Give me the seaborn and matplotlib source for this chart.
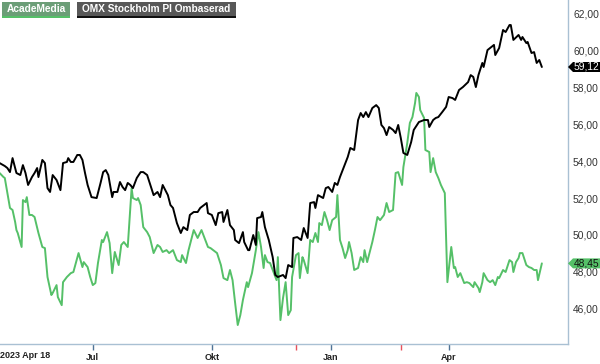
import matplotlib
matplotlib.use('Agg')
import matplotlib.pyplot as plt
from matplotlib.patches import Rectangle, Polygon
import seaborn as sns
import pandas as pd

START = '2023-04-18'
series_names = ['AcadeMedia', 'OMX Stockholm PI Ombaserad']

omx_days = [2, 6, 8, 10, 12, 15, 18, 20, 22, 24,
            27, 29, 31, 32, 35, 37, 39, 41, 43, 46,
            49, 51, 54, 55, 57, 59, 62, 64, 66, 68,
            70, 73, 77, 80, 82, 84, 86, 89, 90, 93,
            95, 97, 99, 101, 103, 105, 108, 111, 113, 116,
            118, 121, 124, 126, 128, 132, 134, 136, 139, 142,
            144, 147, 149, 152, 155, 157, 160, 162, 163, 166,
            169, 171, 174, 175, 178, 180, 183, 184, 187, 190,
            191, 194, 195, 198, 200, 201, 204, 205, 207, 210,
            213, 215, 217, 221, 223, 225, 228, 229, 232, 235,
            237, 240, 242, 245, 246, 248, 252, 254, 256, 259,
            261, 263, 265, 268, 271, 273, 276, 279, 281, 283,
            285, 287, 290, 293, 295, 297, 299, 301, 303, 306,
            308, 310, 312, 314, 317, 320, 322, 326, 330, 333,
            334, 337, 339, 341, 344, 347, 349, 352, 354, 357,
            360, 364, 366, 368, 370, 372, 375, 376, 379, 382,
            384, 385, 388, 391, 393, 396, 397, 399, 403, 405,
            406, 409, 410, 413, 415, 417, 419, 421]
omx_values = [53.90, 53.74, 53.63, 53.41, 54.17, 53.36, 53.25, 53.79, 53.36, 52.71,
              53.14, 53.36, 53.63, 53.14, 54.07, 53.90, 52.54, 52.33, 53.25, 52.98,
              52.43, 53.90, 53.96, 54.17, 53.96, 53.96, 54.34, 54.34, 54.07, 53.36,
              52.71, 52.05, 52.00, 52.82, 53.41, 53.52, 53.25, 52.05, 52.33, 52.33,
              52.87, 52.60, 52.43, 52.82, 52.71, 52.54, 53.09, 53.41, 53.41, 53.25,
              52.82, 52.16, 52.33, 52.05, 52.71, 52.16, 51.62, 51.46, 50.64, 50.10,
              50.42, 50.26, 51.08, 51.24, 51.24, 51.46, 51.62, 51.73, 51.18, 51.08,
              50.53, 51.18, 51.24, 50.70, 51.35, 50.53, 50.26, 49.72, 49.55, 50.15,
              49.61, 49.17, 49.17, 49.99, 49.45, 50.91, 50.97, 51.24, 50.42, 49.72,
              48.79, 47.82, 47.71, 47.82, 47.65, 48.36, 48.25, 49.83, 49.88, 49.72,
              50.37, 49.83, 51.73, 51.78, 51.46, 52.16, 52.00, 52.54, 52.60, 52.33,
              52.82, 52.71, 53.14, 53.68, 54.23, 54.72, 54.61, 56.24, 56.62, 56.40,
              56.67, 56.40, 56.89, 57.05, 56.89, 55.97, 55.80, 55.42, 55.86, 55.70,
              55.53, 55.97, 55.26, 54.45, 54.34, 55.04, 55.70, 56.13, 56.24, 56.24,
              55.86, 56.24, 56.35, 56.40, 56.67, 56.95, 57.49, 57.43, 57.33, 57.87,
              58.03, 58.30, 58.68, 58.58, 58.03, 58.68, 59.34, 59.12, 60.04, 60.21,
              60.32, 59.77, 60.15, 61.13, 61.02, 61.40, 61.40, 60.59, 60.86, 60.59,
              60.75, 60.42, 60.48, 59.88, 59.93, 59.34, 59.50, 59.12]

acad_days = [2, 5, 6, 8, 10, 12, 14, 15, 16, 19,
             20, 22, 23, 25, 27, 29, 32, 35, 37, 39,
             42, 43, 46, 47, 50, 51, 54, 57, 59, 63,
             66, 67, 70, 72, 74, 76, 78, 81, 82, 85,
             87, 89, 91, 94, 96, 98, 101, 104, 105, 108,
             109, 111, 113, 116, 118, 121, 124, 126, 128, 131,
             133, 136, 139, 142, 143, 146, 148, 152, 155, 158,
             163, 165, 167, 170, 173, 175, 178, 180, 182, 184,
             186, 188, 190, 193, 194, 197, 200, 202, 204, 206,
             207, 209, 211, 214, 216, 217, 219, 221, 223, 225,
             227, 228, 231, 233, 234, 236, 237, 240, 242, 244,
             246, 248, 249, 251, 253, 255, 257, 259, 262, 263,
             265, 267, 269, 271, 272, 274, 276, 279, 281, 283,
             284, 286, 287, 290, 292, 294, 296, 299, 301, 303,
             306, 308, 310, 313, 314, 317, 319, 321, 323, 324,
             326, 327, 330, 331, 334, 335, 337, 339, 341, 343,
             346, 348, 351, 353, 354, 356, 358, 361, 363, 365,
             368, 369, 372, 373, 375, 376, 379, 381, 383, 385,
             387, 388, 391, 393, 396, 398, 399, 401, 403, 404,
             406, 409, 411, 413, 415, 417, 418, 421]
acad_values = [53.36, 53.14, 53.09, 52.27, 51.46, 51.35, 50.70, 50.26, 50.10, 49.34,
               51.89, 51.78, 52.05, 51.08, 51.08, 50.97, 50.10, 49.34, 49.28, 47.71,
               46.73, 46.84, 47.27, 46.62, 46.18, 47.43, 47.71, 47.92, 47.98, 49.01,
               48.25, 48.52, 48.25, 47.71, 47.27, 47.38, 48.47, 49.72, 49.61, 50.15,
               49.55, 47.92, 49.07, 48.36, 49.45, 49.61, 49.34, 52.54, 52.00, 51.89,
               52.00, 51.62, 50.42, 50.15, 49.88, 49.01, 49.45, 49.34, 49.07, 49.17,
               49.01, 49.17, 48.63, 48.52, 48.90, 48.47, 49.17, 50.26, 49.83, 50.26,
               49.34, 49.28, 49.17, 49.01, 48.36, 47.65, 47.54, 48.09, 47.54, 46.29,
               45.10, 45.64, 46.46, 47.43, 47.16, 47.92, 49.17, 50.15, 49.34, 48.20,
               48.90, 48.52, 48.47, 47.92, 47.54, 48.79, 45.37, 46.57, 47.43, 45.64,
               45.91, 47.71, 48.90, 49.01, 47.65, 48.79, 48.63, 47.92, 49.72, 49.61,
               50.10, 49.61, 50.64, 50.53, 51.24, 50.80, 50.26, 50.80, 50.97, 52.16,
               49.72, 49.28, 48.74, 49.17, 49.61, 49.01, 48.09, 48.20, 48.79, 48.52,
               49.17, 48.52, 48.79, 49.61, 50.26, 50.97, 50.80, 51.08, 51.73, 51.24,
               51.35, 53.36, 53.41, 52.71, 53.68, 54.99, 56.08, 56.40, 57.16, 57.71,
               57.49, 56.78, 56.35, 54.61, 54.50, 53.41, 54.17, 53.41, 53.09, 52.71,
               52.27, 47.43, 49.34, 48.20, 48.25, 47.71, 47.92, 47.38, 47.43, 47.38,
               47.16, 47.43, 47.11, 46.89, 47.43, 47.92, 47.54, 47.43, 47.54, 47.27,
               47.71, 47.65, 48.09, 47.98, 48.63, 48.52, 47.98, 48.52, 48.74, 49.01,
               49.01, 48.36, 48.25, 48.20, 48.09, 48.09, 47.54, 48.45]

tick_dates = ['2023-07-01', '2023-10-01', '2024-01-01', '2024-04-01']
tick_labels = ['Jul', 'Okt', 'Jan', 'Apr']
event_dates = ['2023-12-05', '2024-02-24']
y_ticks = [46, 48, 50, 52, 54, 56, 58, 60, 62]
last_labels = ['48,45', '59,12']

GREEN = '#55c068'
BLACK = '#000000'

start = pd.Timestamp(START)
df = pd.concat([
    pd.DataFrame({'date': start + pd.to_timedelta(acad_days, unit='D'),
                  'value': acad_values, 'series': series_names[0]}),
    pd.DataFrame({'date': start + pd.to_timedelta(omx_days, unit='D'),
                  'value': omx_values, 'series': series_names[1]}),
], ignore_index=True)

sns.set_theme(style='white')
plt.rcParams['font.family'] = ['Liberation Sans', 'DejaVu Sans']

W, H = 600, 364
fig = plt.figure(figsize=(W / 100, H / 100), dpi=100)
ax = fig.add_axes([0, 20 / H, 568 / W, 344 / H])

sns.lineplot(data=df, x='date', y='value', hue='series', hue_order=series_names,
             palette={series_names[0]: GREEN, series_names[1]: BLACK},
             linewidth=1.4, legend=False, ax=ax, estimator=None)

ax.set_xlim(start + pd.Timedelta(days=2.3), start + pd.Timedelta(days=441.2))
ax.set_ylim(44.07, 62.76)
ax.set_xlabel('')
ax.set_ylabel('')

for s in ['left', 'top']:
    ax.spines[s].set_visible(False)
for s in ['right', 'bottom']:
    ax.spines[s].set_color('#a9c0d3')
    ax.spines[s].set_linewidth(1.0)

ax.yaxis.tick_right()
ax.set_yticks(y_ticks)
ax.set_yticklabels([f'{v:.2f}'.replace('.', ',') for v in y_ticks])
ax.tick_params(axis='y', which='both', left=False, right=True, length=0, pad=3.6,
               labelsize=7.4, labelcolor='#333333')

ax.set_xticks(pd.to_datetime(tick_dates))
ax.set_xticklabels(tick_labels, fontweight='bold')
ax.set_xticks(pd.to_datetime(event_dates), minor=True)
ax.tick_params(axis='x', which='major', bottom=True, direction='out', length=4.5,
               width=1, color='#4f7396', pad=2, labelsize=6.5, labelcolor='#222222')
ax.tick_params(axis='x', which='minor', bottom=True, direction='out', length=4.5,
               width=1, color='#e8505b')

ax.text(0.0, -11 / 344, '2023 Apr 18', transform=ax.transAxes, ha='left', va='center',
        fontsize=6.5, fontweight='bold', color='#222222')


def legend_box(x0, x1, label, fc, uc):
    y0, y1 = 2, 16
    fig.add_artist(Rectangle((x0 / W, 1 - y1 / H), (x1 - x0) / W, (y1 - y0) / H,
                             transform=fig.transFigure, fc=fc, ec='none'))
    fig.add_artist(Rectangle((x0 / W, 1 - (y1 + 1.5) / H), (x1 - x0) / W, 2 / H,
                             transform=fig.transFigure, fc=uc, ec='none'))
    fig.text((x0 + x1) / 2 / W, 1 - (y0 + y1) / 2 / H, label, ha='center', va='center',
             fontsize=7.3, fontweight='bold', color='white')


legend_box(2, 70, series_names[0], '#6b9e77', GREEN)
legend_box(77, 236, series_names[1], '#585858', '#111111')


def value_tag(v, text, fc, tc):
    yd = ax.transData.transform((ax.get_xlim()[0], v))[1]
    xs = ax.transAxes.transform((1, 0))[0]
    h = 5.0
    pts = [(xs, yd), (xs + 5, yd + h), (W + 2, yd + h), (W + 2, yd - h), (xs + 5, yd - h)]
    fig.add_artist(Polygon([(x / W, y / H) for x, y in pts], closed=True,
                           transform=fig.transFigure, fc=fc, ec='none', zorder=5))
    fig.text((xs + 5.5) / W, yd / H, text, ha='left', va='center', fontsize=7.4,
             color=tc, zorder=6)


value_tag(acad_values[-1], last_labels[0], GREEN, '#111111')
value_tag(omx_values[-1], last_labels[1], BLACK, 'white')

fig.savefig('out.png', dpi=100)
